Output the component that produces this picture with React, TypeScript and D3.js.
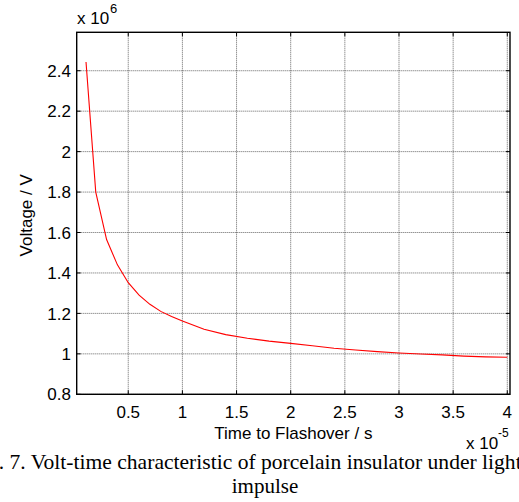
import React from "react";
import * as d3 from "d3";

// Data (time in units of 1e-5 s, voltage in units of 1e6 V)
const timeValues = [0.11, 0.2, 0.3, 0.4, 0.5, 0.6, 0.7, 0.8, 0.9, 1.0, 1.2, 1.4, 1.6, 1.8, 2.0, 2.2, 2.4, 2.6, 2.8, 3.0, 3.2, 3.4, 3.6, 3.8, 4.0];
const voltageValues = [2.443, 1.8, 1.565, 1.44, 1.352, 1.29, 1.245, 1.21, 1.185, 1.163, 1.122, 1.095, 1.077, 1.063, 1.052, 1.04, 1.028, 1.019, 1.011, 1.004, 0.999, 0.995, 0.989, 0.985, 0.983];
const xTicks = [0.5, 1, 1.5, 2, 2.5, 3, 3.5, 4];
const xTickLabels = ["0.5", "1", "1.5", "2", "2.5", "3", "3.5", "4"];
const yTicks = [0.8, 1, 1.2, 1.4, 1.6, 1.8, 2, 2.2, 2.4];
const yTickLabels = ["0.8", "1", "1.2", "1.4", "1.6", "1.8", "2", "2.2", "2.4"];
const xLabel = "Time to Flashover / s";
const yLabel = "Voltage / V";
const captionLine1 = "Fig. 7. Volt-time characteristic of porcelain insulator under lightning";
const captionLine2 = "impulse";

export default function App() {
  const W = 519, H = 502;
  const left = 76.7, right = 510, top = 32.3, bottom = 394.3;
  const x = d3.scaleLinear().domain([0.024, 4.025]).range([left, right]);
  const y = d3.scaleLinear().domain([0.8, 2.59]).range([bottom, top]);
  const line = d3.line<number>().x((_, i) => x(timeValues[i])).y((d) => y(d));
  const font = "'Liberation Sans', Arial, Helvetica, sans-serif";
  const serif = "'Liberation Serif', 'Times New Roman', serif";
  const tickLen = 4;
  const gridStyle = { stroke: "#000", strokeWidth: 1, strokeDasharray: "1 1", opacity: 0.6 };
  return (
    <svg width={W} height={H} style={{ position: "absolute", left: 0, top: 0, background: "#fff" }}>
      <rect x={0} y={0} width={W} height={H} fill="#fff" />
      {/* grid */}
      {xTicks.map((t) => (
        <line key={"gx" + t} x1={x(t)} x2={x(t)} y1={top} y2={bottom} {...gridStyle} />
      ))}
      {yTicks.map((t) => (
        <line key={"gy" + t} x1={left} x2={right} y1={y(t)} y2={y(t)} {...gridStyle} />
      ))}
      {/* data */}
      <path d={line(voltageValues) || ""} fill="none" stroke="#ff0000" strokeWidth={1.1} />
      {/* ticks */}
      {xTicks.map((t) => (
        <g key={"tx" + t}>
          <line x1={x(t)} x2={x(t)} y1={bottom} y2={bottom - tickLen} stroke="#000" />
          <line x1={x(t)} x2={x(t)} y1={top} y2={top + tickLen} stroke="#000" />
        </g>
      ))}
      {yTicks.map((t) => (
        <g key={"ty" + t}>
          <line x1={left} x2={left + tickLen} y1={y(t)} y2={y(t)} stroke="#000" />
          <line x1={right} x2={right - tickLen} y1={y(t)} y2={y(t)} stroke="#000" />
        </g>
      ))}
      {/* frame */}
      <rect x={left} y={top} width={right - left} height={bottom - top} fill="none" stroke="#000" strokeWidth={1.4} />
      {/* tick labels */}
      {xTicks.map((t, i) => (
        <text key={"lx" + t} x={x(t)} y={417.5} textAnchor="middle" fontFamily={font} fontSize={17} fill="#000">
          {xTickLabels[i]}
        </text>
      ))}
      {yTicks.map((t, i) => (
        <text key={"ly" + t} x={71} y={y(t) + 6.1} textAnchor="end" fontFamily={font} fontSize={17} fill="#000">
          {yTickLabels[i]}
        </text>
      ))}
      {/* exponents */}
      <text x={77} y={24} fontFamily={font} fontSize={17} fill="#000">x 10</text>
      <text x={110} y={12.5} fontFamily={font} fontSize={13} fill="#000">6</text>
      <text x={466} y={449} fontFamily={font} fontSize={17} fill="#000">x 10</text>
      <text x={498} y={437} fontFamily={font} fontSize={12} fill="#000">-5</text>
      {/* axis labels */}
      <text x={(left + right) / 2} y={438.5} textAnchor="middle" fontFamily={font} fontSize={17} fill="#000">
        {xLabel}
      </text>
      <text transform={`translate(32,${(top + bottom) / 2 + 2}) rotate(-90)`} textAnchor="middle" fontFamily={font} fontSize={17} fill="#000">
        {yLabel}
      </text>
      {/* caption */}
      <text x={-30} y={469} textLength={590} lengthAdjust="spacingAndGlyphs" fontFamily={serif} fontSize={21} fill="#000">
        {captionLine1}
      </text>
      <text x={265} y={493} textAnchor="middle" fontFamily={serif} fontSize={21} fill="#000">
        {captionLine2}
      </text>
    </svg>
  );
}
